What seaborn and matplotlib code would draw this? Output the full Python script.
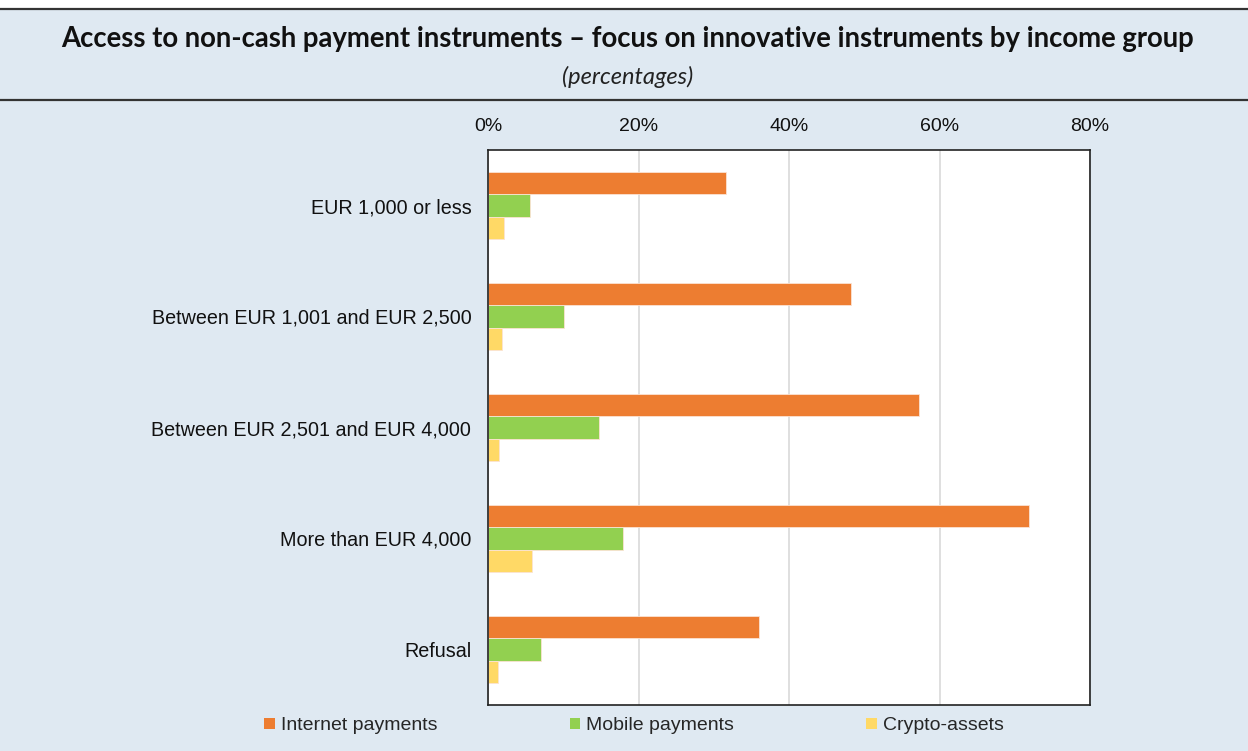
import matplotlib
matplotlib.use("Agg")
import matplotlib.pyplot as plt
import seaborn as sns
import pandas as pd
from matplotlib.lines import Line2D
from matplotlib.patches import Patch

categories = ["EUR 1,000 or less", "Between EUR 1,001 and EUR 2,500",
              "Between EUR 2,501 and EUR 4,000", "More than EUR 4,000", "Refusal"]
internet = [31.6, 48.2, 57.3, 71.9, 36.0]
mobile = [5.6, 10.1, 14.8, 17.9, 7.0]
crypto = [2.1, 1.9, 1.5, 5.8, 1.3]
series_names = ["Internet payments", "Mobile payments", "Crypto-assets"]
colors = ["#ed7d31", "#92d050", "#ffd966"]
xticks = [0, 20, 40, 60, 80]
xtick_labels = ["0%", "20%", "40%", "60%", "80%"]

rows = []
for s, vals in zip(series_names, [internet, mobile, crypto]):
    for c, v in zip(categories, vals):
        rows.append({"category": c, "series": s, "value": v})
df = pd.DataFrame(rows)

sns.set_theme(style="white")
plt.rcParams['font.family'] = ['Liberation Sans', 'DejaVu Sans']

BG = "#dfe9f2"
fig = plt.figure(figsize=(12.48, 7.51), dpi=100, facecolor=BG)
W, H = 1248, 751

# white strip at top
fig.patches.append(plt.Rectangle((0, 1 - 9 / H), 1, 9 / H, transform=fig.transFigure,
                                 facecolor="white", edgecolor="none", zorder=0))
fig.add_artist(Line2D([0, 1], [1 - 9 / H, 1 - 9 / H], color="#333333", lw=1.6, transform=fig.transFigure))
fig.add_artist(Line2D([0, 1], [1 - 100 / H, 1 - 100 / H], color="#333333", lw=1.6, transform=fig.transFigure))

fig.text(628 / W, 1 - 39 / H, "Access to non-cash payment instruments \u2013 focus on innovative instruments by income group",
         ha="center", va="center", fontsize=19.8, fontweight="bold", family=["Lato", "DejaVu Sans"], color="#111111")
fig.text(628 / W, 1 - 77 / H, "(percentages)", ha="center", va="center", fontsize=17,
         style="italic", family=["Lato", "DejaVu Sans"], color="#222222")

ax = fig.add_axes([488 / W, 1 - 705 / H, (1090 - 488) / W, (705 - 150) / H])
sns.barplot(data=df, y="category", x="value", hue="series", orient="h",
            palette=colors, saturation=1, width=0.6, ax=ax, legend=False,
            edgecolor="#fbe3d3", linewidth=0.6)
ax.set_facecolor("white")
ax.set_xlim(0, 80)
ax.set_ylim(4.5, -0.5)
ax.set_xticks(xticks)
ax.set_xticklabels(xtick_labels)
ax.xaxis.tick_top()
ax.tick_params(axis="x", length=0, labelsize=14, pad=10.5, colors="#111111")
ax.tick_params(axis="y", length=0, labelsize=14.2, pad=12, colors="#111111")
ax.set_xlabel("")
ax.set_ylabel("")
ax.grid(axis="x", color="#d9d9d9", lw=1.2)
ax.set_axisbelow(True)
for sp in ax.spines.values():
    sp.set_visible(True)
    sp.set_color("#222222")
    sp.set_linewidth(1.2)

handles = [Patch(facecolor=c, edgecolor="none") for c in colors]
leg = fig.legend(handles, series_names, loc="center", bbox_to_anchor=(634 / W, 1 - 726 / H),
                 ncol=3, frameon=False, fontsize=14, handlelength=0.55, handleheight=0.55,
                 handletextpad=0.3, columnspacing=6.8)

fig.savefig("out.png", dpi=100, facecolor=BG)
